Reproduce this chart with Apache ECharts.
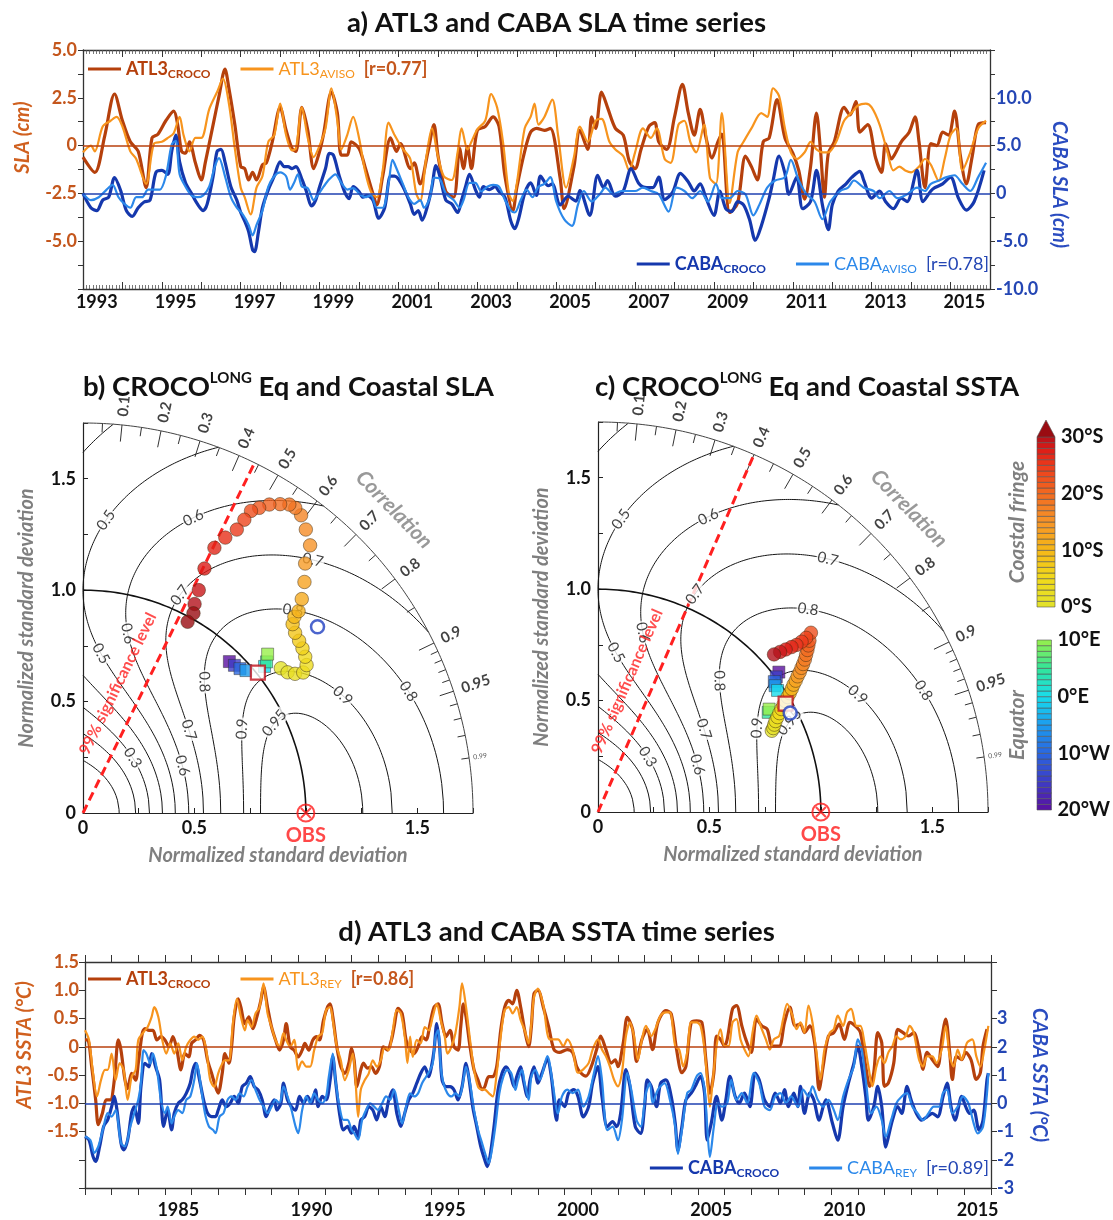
<!DOCTYPE html>
<html><head><meta charset="utf-8">
<script src="https://cdn.jsdelivr.net/npm/echarts/dist/echarts.min.js"></script>
<style>html,body{margin:0;padding:0;background:#fff}#c{width:1113px;height:1220px}</style>
</head><body><div id="c"></div>
<script>
// ---------------- DATA ----------------
// a) SLA time series [year, value]; ATL3 in cm (left axis), CABA in cm (right axis)
const slaAtl3Croco = [[1993.0,-0.6],[1993.3,-1.4],[1993.55,0.5],[1993.8,2.7],[1994.0,1.3],[1994.2,0.2],[1994.4,-0.3],[1994.6,-2.2],[1994.75,0.4],[1994.9,0.6],[1995.1,1.3],[1995.3,1.8],[1995.4,1.1],[1995.5,-0.3],[1995.6,-0.4],[1995.7,0.2],[1995.85,-0.9],[1996.0,-1.8],[1996.1,-0.9],[1996.3,1.1],[1996.45,2.6],[1996.6,4.0],[1996.7,3.0],[1996.85,1.1],[1997.0,-1.1],[1997.1,-1.2],[1997.2,-1.8],[1997.3,-1.4],[1997.4,-1.8],[1997.55,-1.0],[1997.65,-0.9],[1997.8,0.2],[1998.0,2.0],[1998.15,0.8],[1998.3,-0.15],[1998.4,-0.3],[1998.55,2.0],[1998.7,0.8],[1998.85,-1.2],[1999.0,-0.3],[1999.1,0.6],[1999.3,2.8],[1999.45,1.7],[1999.55,-0.5],[1999.7,-0.5],[1999.8,0.2],[2000.0,-0.15],[2000.15,-1.1],[2000.35,-2.5],[2000.45,-3.1],[2000.6,-1.6],[2000.8,0.4],[2000.95,-0.3],[2001.05,0.1],[2001.3,-1.2],[2001.4,-0.9],[2001.55,-2.0],[2001.75,-0.3],[2001.9,1.1],[2002.0,-0.5],[2002.2,-2.4],[2002.4,-2.7],[2002.55,-0.15],[2002.65,-1.2],[2002.75,-0.05],[2002.85,-1.2],[2003.0,0.8],[2003.2,1.0],[2003.4,1.5],[2003.55,1.0],[2003.7,-1.6],[2003.9,-3.4],[2004.0,-2.2],[2004.2,-0.3],[2004.35,0.7],[2004.5,0.9],[2004.7,0.8],[2004.85,0.9],[2005.1,-1.7],[2005.2,-3.3],[2005.45,-1.1],[2005.6,0.8],[2005.8,-0.2],[2005.9,1.5],[2006.0,0.9],[2006.15,2.8],[2006.3,2.0],[2006.5,0.9],[2006.7,0.55],[2006.85,-0.8],[2007.0,-1.2],[2007.15,-0.2],[2007.35,1.0],[2007.5,1.2],[2007.6,0.2],[2007.8,-0.2],[2008.0,1.5],[2008.2,3.2],[2008.35,1.7],[2008.5,0.55],[2008.65,1.9],[2008.8,0.4],[2008.95,-0.65],[2009.1,0.2],[2009.2,0.6],[2009.4,-3.5],[2009.6,-3.0],[2009.8,-0.55],[2009.95,-1.1],[2010.1,-1.8],[2010.25,0.2],[2010.4,0.4],[2010.6,2.4],[2010.8,0.4],[2011.0,-0.4],[2011.15,-1.3],[2011.3,-2.8],[2011.45,-1.1],[2011.6,1.7],[2011.7,-0.2],[2011.8,-2.7],[2011.9,-0.4],[2012.05,0.2],[2012.3,2.0],[2012.45,1.6],[2012.6,2.3],[2012.7,0.7],[2012.9,1.1],[2013.1,-0.65],[2013.25,-1.4],[2013.35,0.1],[2013.5,-0.7],[2013.6,-0.4],[2013.75,0.2],[2013.95,0.7],[2014.1,1.5],[2014.2,0.2],[2014.35,-2.2],[2014.5,0.1],[2014.65,0],[2014.8,0.7],[2014.95,0.55],[2015.1,1.8],[2015.25,-0.55],[2015.4,-2.0],[2015.55,-0.55],[2015.7,1.1],[2015.9,1.2]];
const slaAtl3Aviso = [[1993.0,-0.35],[1993.2,0],[1993.3,-0.3],[1993.5,1.0],[1993.7,1.3],[1993.85,1.5],[1994.0,1.0],[1994.2,-0.3],[1994.35,-0.7],[1994.6,-2.0],[1994.8,0.1],[1995.0,0.2],[1995.15,0.4],[1995.3,0.65],[1995.45,1.5],[1995.55,0.55],[1995.7,-0.3],[1995.85,0.4],[1996.0,0.4],[1996.2,1.9],[1996.4,2.8],[1996.55,3.5],[1996.7,2.2],[1996.85,-0.15],[1997.0,-2.2],[1997.1,-2.7],[1997.25,-3.6],[1997.4,-2.2],[1997.55,-1.6],[1997.7,0.2],[1997.85,0.55],[1998.0,2.2],[1998.15,0.55],[1998.3,-0.25],[1998.4,-0.15],[1998.55,2.0],[1998.7,0.4],[1998.85,-0.6],[1999.0,0],[1999.15,0.9],[1999.3,3.0],[1999.45,1.3],[1999.55,-0.2],[1999.7,0.55],[1999.85,1.5],[2000.0,0.4],[2000.15,-1.3],[2000.3,-2.4],[2000.45,-2.7],[2000.6,-1.3],[2000.75,1.2],[2000.9,0.55],[2001.1,-0.15],[2001.3,-0.7],[2001.45,-2.5],[2001.55,-2.9],[2001.7,-0.7],[2001.85,0.9],[2002.0,-0.55],[2002.15,-1.6],[2002.35,-1.8],[2002.5,-0.35],[2002.6,0.9],[2002.75,-0.2],[2002.85,0.2],[2003.0,0.85],[2003.2,1.3],[2003.35,2.7],[2003.5,2.0],[2003.65,0.2],[2003.8,-2.5],[2003.9,-2.9],[2004.0,-2.0],[2004.2,0.9],[2004.35,1.5],[2004.45,2.2],[2004.55,1.1],[2004.7,1.5],[2004.9,2.4],[2005.05,0.5],[2005.25,-2.2],[2005.45,-0.6],[2005.6,1.0],[2005.8,0.2],[2006.0,1.3],[2006.15,1.4],[2006.35,0.2],[2006.5,-0.2],[2006.7,-0.55],[2006.85,-1.3],[2007.0,-0.35],[2007.2,0.9],[2007.4,0.4],[2007.55,0.9],[2007.75,-0.7],[2007.9,-0.9],[2008.1,1.1],[2008.25,1.3],[2008.4,0.2],[2008.55,-0.35],[2008.75,1.1],[2008.9,-1.7],[2009.05,-2.0],[2009.2,1.7],[2009.4,-3.0],[2009.6,-0.35],[2009.75,0.2],[2009.95,0.9],[2010.2,1.7],[2010.35,1.5],[2010.5,3.0],[2010.65,2.6],[2010.8,0.9],[2010.95,-0.35],[2011.1,-0.7],[2011.3,-0.35],[2011.45,0.2],[2011.6,-0.2],[2011.75,-0.35],[2011.9,-0.35],[2012.1,0.2],[2012.3,1.3],[2012.5,1.75],[2012.65,2.1],[2012.85,2.2],[2013.0,2.0],[2013.2,1.1],[2013.4,-0.35],[2013.55,-1.3],[2013.7,-1.1],[2013.85,-1.3],[2014.0,-1.4],[2014.2,-1.1],[2014.35,-0.7],[2014.5,-1.0],[2014.7,-1.85],[2014.85,-0.7],[2015.0,0.55],[2015.15,0.9],[2015.3,-1.3],[2015.5,-0.35],[2015.7,0.9],[2015.9,1.3]];
const slaCabaCroco = [[1993.0,0],[1993.2,-1.5],[1993.35,-1.8],[1993.5,-0.7],[1993.65,-0.4],[1993.8,1.65],[1993.95,0.35],[1994.1,-1.8],[1994.25,-2.4],[1994.4,-1.5],[1994.55,-0.9],[1994.7,-0.7],[1994.85,2.2],[1995.0,2.4],[1995.15,2.0],[1995.25,4.4],[1995.35,6.1],[1995.45,3.3],[1995.6,1.1],[1995.75,0],[1995.9,-1.1],[1996.05,-1.8],[1996.15,-1.1],[1996.3,1.8],[1996.4,4.4],[1996.5,4.6],[1996.6,3.3],[1996.75,0.7],[1996.9,-0.7],[1997.0,-2.0],[1997.1,-2.9],[1997.2,-4.0],[1997.3,-5.9],[1997.35,-6.1],[1997.45,-4.0],[1997.55,-1.5],[1997.7,0.4],[1997.85,1.8],[1998.0,3.3],[1998.1,2.8],[1998.2,2.8],[1998.3,2.6],[1998.4,2.8],[1998.55,1.5],[1998.65,0.4],[1998.8,-1.3],[1998.9,-0.7],[1999.0,0.7],[1999.15,2.6],[1999.25,4.2],[1999.35,4.0],[1999.5,1.8],[1999.65,0],[1999.75,-0.55],[1999.85,0.7],[2000.0,0.2],[2000.1,-0.4],[2000.2,-0.2],[2000.35,-0.7],[2000.5,-2.6],[2000.65,-1.5],[2000.8,1.8],[2000.9,1.8],[2001.0,1.5],[2001.15,0.4],[2001.3,-1.1],[2001.4,-2.2],[2001.5,-1.8],[2001.6,-2.8],[2001.75,-1.1],[2001.85,0.7],[2001.95,2.9],[2002.05,1.8],[2002.2,-0.7],[2002.35,-1.1],[2002.5,-2.0],[2002.6,-0.7],[2002.7,0.7],[2002.8,2.0],[2002.95,0.4],[2003.05,-0.4],[2003.15,0.7],[2003.3,0.4],[2003.45,0.7],[2003.55,0.2],[2003.7,-0.4],[2003.85,-2.9],[2003.95,-3.7],[2004.05,-2.6],[2004.2,0],[2004.35,1.1],[2004.5,-0.2],[2004.6,1.8],[2004.8,0.8],[2004.9,1.0],[2005.1,-1.2],[2005.3,-0.3],[2005.5,-0.8],[2005.6,0.3],[2005.85,-2.3],[2006.05,1.9],[2006.2,0.6],[2006.3,1.35],[2006.5,-0.3],[2006.7,0.25],[2006.9,2.6],[2007.1,1.0],[2007.3,0.6],[2007.45,0.6],[2007.6,1.7],[2007.75,-0.65],[2007.95,0.1],[2008.15,2.1],[2008.35,1.2],[2008.5,0.25],[2008.65,1.0],[2008.8,-0.5],[2009.0,-2.3],[2009.15,0.25],[2009.3,-1.6],[2009.45,-1.9],[2009.6,-0.85],[2009.75,-1.2],[2009.9,-2.7],[2010.05,-4.9],[2010.2,-3.4],[2010.4,-0.5],[2010.5,1.35],[2010.65,3.9],[2010.8,2.1],[2010.9,-0.1],[2011.1,1.7],[2011.25,-1.6],[2011.45,-0.85],[2011.6,2.4],[2011.75,-1.2],[2011.9,-3.8],[2012.0,-1.2],[2012.15,0.25],[2012.35,1.0],[2012.5,1.7],[2012.7,2.3],[2012.8,1.35],[2013.0,-0.5],[2013.2,0.25],[2013.35,-0.85],[2013.55,-1.6],[2013.75,-0.5],[2013.9,-0.85],[2014.15,2.4],[2014.3,-0.85],[2014.5,0.25],[2014.6,0.6],[2014.8,1.0],[2015.0,1.7],[2015.2,-0.5],[2015.4,-1.75],[2015.6,-0.85],[2015.85,2.4]];
const slaCabaAviso = [[1993.0,0],[1993.2,-0.7],[1993.4,-0.4],[1993.6,0.4],[1993.75,0.9],[1993.9,-0.4],[1994.05,-1.1],[1994.2,-1.5],[1994.35,-0.4],[1994.5,-0.4],[1994.65,0.4],[1994.8,0.4],[1994.95,0.4],[1995.1,1.8],[1995.25,5.1],[1995.35,5.5],[1995.45,2.0],[1995.6,0.7],[1995.75,-0.2],[1995.9,-0.4],[1996.05,-0.2],[1996.2,0.7],[1996.35,2.9],[1996.45,3.7],[1996.6,1.8],[1996.75,-0.4],[1996.9,-1.5],[1997.05,-2.2],[1997.2,-3.3],[1997.3,-4.4],[1997.4,-3.3],[1997.55,-1.8],[1997.7,0.7],[1997.85,1.8],[1998.0,2.2],[1998.15,1.8],[1998.25,0.4],[1998.35,1.1],[1998.45,2.0],[1998.55,0.7],[1998.7,0.55],[1998.85,-0.7],[1998.95,-0.2],[1999.1,0.7],[1999.25,1.5],[1999.4,2.0],[1999.55,1.1],[1999.7,0.4],[1999.85,0.55],[2000.0,0],[2000.15,-0.4],[2000.3,-0.2],[2000.45,-1.5],[2000.6,-1.5],[2000.75,1.1],[2000.85,3.5],[2000.95,2.6],[2001.1,1.1],[2001.25,-0.4],[2001.4,-1.1],[2001.55,-0.7],[2001.65,-1.5],[2001.8,-0.4],[2001.9,1.65],[2002.05,1.5],[2002.2,0],[2002.4,-0.7],[2002.55,-1.5],[2002.65,-0.7],[2002.8,1.1],[2002.95,1.1],[2003.1,0.2],[2003.25,0.7],[2003.4,0.9],[2003.55,0.7],[2003.7,-0.7],[2003.85,-1.8],[2003.95,-2.0],[2004.1,-0.7],[2004.25,0.4],[2004.4,-0.4],[2004.55,0.7],[2004.7,1.0],[2004.85,1.7],[2005.0,-0.85],[2005.2,-2.7],[2005.4,-3.4],[2005.55,-1.2],[2005.7,0.25],[2005.9,-0.85],[2006.1,-0.1],[2006.25,0.6],[2006.45,-0.1],[2006.65,0.25],[2006.85,0.25],[2007.0,0.25],[2007.2,0.6],[2007.4,0.25],[2007.6,-0.1],[2007.85,-1.9],[2008.05,0.6],[2008.25,0.25],[2008.45,-0.5],[2008.65,0.25],[2008.85,-0.85],[2009.05,1.0],[2009.2,-0.5],[2009.4,-0.5],[2009.6,0.25],[2009.8,-0.1],[2010.0,-2.3],[2010.15,-1.2],[2010.35,0.6],[2010.55,1.35],[2010.8,1.7],[2010.95,3.5],[2011.15,1.35],[2011.35,-0.1],[2011.55,-0.85],[2011.75,-2.7],[2011.95,-0.85],[2012.2,0.25],[2012.4,0.6],[2012.55,1.35],[2012.8,0.6],[2013.05,0.25],[2013.2,-0.5],[2013.45,0.25],[2013.65,-0.5],[2013.9,-0.1],[2014.15,0.6],[2014.35,0.25],[2014.5,1.0],[2014.7,1.35],[2014.9,1.7],[2015.1,1.9],[2015.3,1.0],[2015.5,0.25],[2015.7,1.7],[2015.9,3.2]];

// d) SSTA time series [year, value]; ATL3 in °C (left axis), CABA in °C (right axis)
const sstAtl3Croco = [[1982.0,0.12],[1982.1,0.12],[1982.25,-0.35],[1982.4,-0.94],[1982.5,-1.38],[1982.65,-1.18],[1982.8,-0.94],[1982.95,-0.94],[1983.1,-0.59],[1983.25,0.12],[1983.35,-0.06],[1983.5,-0.59],[1983.6,-0.74],[1983.75,-0.47],[1983.9,-0.59],[1984.0,-0.29],[1984.15,0.24],[1984.25,0.32],[1984.4,0.29],[1984.55,0.29],[1984.7,0.12],[1984.85,0.18],[1985.0,0.12],[1985.15,0],[1985.3,0.18],[1985.45,-0.06],[1985.6,-0.41],[1985.75,-0.12],[1985.9,-0.18],[1986.0,0.06],[1986.15,0.12],[1986.3,0.2],[1986.45,0.12],[1986.6,-0.24],[1986.75,-0.47],[1986.9,-0.71],[1987.0,-0.82],[1987.15,-0.47],[1987.25,-0.12],[1987.4,-0.29],[1987.5,0],[1987.6,0.53],[1987.75,0.85],[1987.85,0.7],[1988.0,0.41],[1988.15,0.53],[1988.3,0.32],[1988.45,0.53],[1988.6,0.82],[1988.7,1.06],[1988.85,0.7],[1989.0,0.35],[1989.15,0.12],[1989.3,-0.06],[1989.45,0.12],[1989.55,0.41],[1989.7,0],[1989.85,-0.06],[1990.0,-0.18],[1990.15,-0.06],[1990.25,0.06],[1990.4,-0.06],[1990.55,0.12],[1990.7,0.18],[1990.8,0.12],[1990.95,0.47],[1991.1,0.7],[1991.2,0.76],[1991.3,0.53],[1991.45,0],[1991.6,-0.35],[1991.75,-0.47],[1991.9,-0.29],[1992.0,-0.03],[1992.1,-0.24],[1992.2,-0.71],[1992.35,-0.41],[1992.45,-0.29],[1992.6,-0.38],[1992.75,-0.35],[1992.9,-0.47],[1993.05,-0.35],[1993.2,0],[1993.35,-0.06],[1993.5,0.12],[1993.6,0.35],[1993.75,0.68],[1993.9,0.59],[1994.05,0.12],[1994.2,-0.06],[1994.35,-0.12],[1994.5,0],[1994.65,0.18],[1994.8,0.12],[1994.95,0.41],[1995.1,0.7],[1995.25,0.76],[1995.4,0.41],[1995.55,0.18],[1995.7,0.29],[1995.85,0],[1996.0,-0.06],[1996.1,0.35],[1996.2,0.76],[1996.3,0.53],[1996.45,0],[1996.6,-0.41],[1996.75,-0.59],[1996.9,-0.76],[1997.0,-0.71],[1997.15,-0.53],[1997.3,-0.53],[1997.45,-0.35],[1997.6,0.29],[1997.75,0.7],[1997.9,0.82],[1998.05,0.76],[1998.2,1.0],[1998.35,0.7],[1998.5,0.29],[1998.65,0],[1998.75,0.35],[1998.85,0.94],[1999.0,1.0],[1999.2,0.7],[1999.4,0.35],[1999.6,-0.05],[1999.8,-0.1],[2000.1,-0.05],[2000.3,-0.1],[2000.45,-0.35],[2000.6,-0.46],[2000.8,-0.52],[2001.0,-0.35],[2001.2,-0.05],[2001.35,0.19],[2001.55,-0.05],[2001.75,-0.29],[2001.9,-0.23],[2002.0,-0.35],[2002.2,0.07],[2002.35,0.52],[2002.55,0.31],[2002.7,-0.26],[2002.9,0.13],[2003.1,0.31],[2003.3,-0.05],[2003.5,0.43],[2003.8,0.64],[2004.0,0.58],[2004.2,-0.05],[2004.4,-0.46],[2004.55,-0.35],[2004.75,0.43],[2004.95,0.46],[2005.15,0.43],[2005.3,-0.23],[2005.45,-0.82],[2005.6,-0.46],[2005.7,0.19],[2005.85,0.13],[2006.0,0.01],[2006.1,0.13],[2006.3,0.67],[2006.45,0.73],[2006.65,0.37],[2006.8,0.13],[2007.0,-0.1],[2007.2,0.49],[2007.4,0.37],[2007.6,0.31],[2007.8,0.01],[2008.05,0.01],[2008.25,0.43],[2008.45,0.7],[2008.65,0.37],[2008.85,0.4],[2009.0,0.25],[2009.2,0.37],[2009.4,0.01],[2009.55,-0.76],[2009.7,-0.35],[2009.9,0.19],[2010.1,0.25],[2010.3,0.4],[2010.5,0.13],[2010.7,0.43],[2010.9,0.37],[2011.1,0.25],[2011.3,-0.35],[2011.45,-0.7],[2011.6,-0.46],[2011.75,0.25],[2011.9,0.07],[2012.0,-0.7],[2012.15,-0.64],[2012.35,-0.29],[2012.5,0.31],[2012.7,0.25],[2012.9,0.19],[2013.1,0.25],[2013.3,-0.05],[2013.45,-0.4],[2013.6,-0.1],[2013.8,-0.23],[2014.0,-0.35],[2014.15,0.13],[2014.3,0.49],[2014.45,-0.1],[2014.55,-0.58],[2014.7,-0.17],[2014.9,-0.23],[2015.05,-0.1],[2015.25,-0.23],[2015.45,-0.58],[2015.6,-0.46],[2015.7,0.01],[2015.85,0.31]];
const sstAtl3Rey = [[1982.0,0.29],[1982.15,0.12],[1982.3,-0.47],[1982.45,-0.88],[1982.6,-0.59],[1982.75,-0.41],[1982.85,-0.41],[1983.0,-0.12],[1983.15,-0.59],[1983.3,-0.29],[1983.45,-0.41],[1983.6,-0.94],[1983.75,-0.53],[1983.9,-0.41],[1984.0,0.12],[1984.2,0.26],[1984.35,0.35],[1984.5,0.53],[1984.6,0.7],[1984.75,0.53],[1984.9,0.12],[1985.05,-0.12],[1985.2,0.06],[1985.35,-0.12],[1985.5,0.06],[1985.65,-0.24],[1985.8,0],[1985.95,0.12],[1986.1,0.18],[1986.25,0.12],[1986.4,0.18],[1986.55,-0.06],[1986.7,-0.59],[1986.85,-0.71],[1987.0,-0.47],[1987.1,-0.35],[1987.25,-0.24],[1987.4,-0.24],[1987.55,0.41],[1987.7,0.85],[1987.85,0.53],[1988.0,0.29],[1988.1,0.47],[1988.25,0.35],[1988.4,0.59],[1988.55,0.7],[1988.7,1.12],[1988.85,0.59],[1989.0,0.35],[1989.15,0.12],[1989.3,0],[1989.45,0.24],[1989.55,0.12],[1989.7,0],[1989.85,0.12],[1990.0,-0.41],[1990.15,-0.26],[1990.3,-0.35],[1990.45,-0.35],[1990.6,-0.06],[1990.75,0.18],[1990.9,0.24],[1991.05,0.65],[1991.2,0.7],[1991.3,0.47],[1991.45,0],[1991.6,-0.24],[1991.75,-0.59],[1991.9,-0.41],[1992.05,-0.12],[1992.15,-0.59],[1992.25,-1.24],[1992.35,-0.76],[1992.5,-0.59],[1992.65,-0.47],[1992.8,-0.24],[1992.95,-0.35],[1993.1,-0.24],[1993.25,0],[1993.4,-0.06],[1993.55,0.29],[1993.7,0.65],[1993.85,0.59],[1994.0,0.18],[1994.1,-0.29],[1994.2,0.18],[1994.3,-0.18],[1994.45,0.12],[1994.6,0.06],[1994.75,0.35],[1994.9,0.29],[1995.05,0.53],[1995.2,0.76],[1995.35,0.47],[1995.5,0.18],[1995.6,-0.12],[1995.75,0],[1995.9,0.24],[1996.05,0.7],[1996.15,1.12],[1996.3,0.7],[1996.45,0.12],[1996.6,-0.41],[1996.75,-0.71],[1996.9,-0.76],[1997.0,-0.76],[1997.15,-0.82],[1997.3,-0.88],[1997.45,-0.47],[1997.6,0.18],[1997.75,0.65],[1997.9,0.7],[1998.05,0.59],[1998.2,0.7],[1998.35,0.47],[1998.5,0.29],[1998.65,0.06],[1998.75,0.41],[1998.85,0.88],[1999.0,1.03],[1999.2,0.73],[1999.45,0.13],[1999.75,0.13],[1999.95,0.01],[2000.1,0.13],[2000.3,-0.05],[2000.5,-0.46],[2000.7,-0.4],[2000.9,-0.29],[2001.05,-0.05],[2001.25,0.13],[2001.4,-0.05],[2001.55,-0.17],[2001.7,-0.35],[2001.85,-0.58],[2002.0,-0.7],[2002.15,-0.46],[2002.3,0.19],[2002.45,0.43],[2002.6,0.19],[2002.75,-0.23],[2002.9,0.13],[2003.05,0.37],[2003.25,0.19],[2003.4,0.31],[2003.6,0.55],[2003.8,0.61],[2003.95,0.61],[2004.15,0.01],[2004.3,-0.05],[2004.45,-0.35],[2004.6,-0.1],[2004.75,0.43],[2004.95,0.43],[2005.1,0.37],[2005.25,-0.05],[2005.35,-0.58],[2005.45,-1.06],[2005.55,-0.64],[2005.7,0.01],[2005.85,0.31],[2006.0,0.01],[2006.15,0.01],[2006.3,0.43],[2006.45,0.49],[2006.6,0.13],[2006.75,-0.05],[2006.9,-0.17],[2007.05,0.25],[2007.2,0.55],[2007.4,0.31],[2007.55,0.13],[2007.7,-0.05],[2007.85,0.13],[2008.05,0.19],[2008.2,0.49],[2008.35,0.76],[2008.55,0.55],[2008.7,0.31],[2008.85,0.43],[2009.0,0.25],[2009.15,0.73],[2009.3,0.43],[2009.45,-0.1],[2009.6,-0.58],[2009.75,-0.05],[2009.95,0.25],[2010.1,0.31],[2010.25,0.55],[2010.45,0.37],[2010.6,0.61],[2010.75,0.67],[2010.95,0.37],[2011.1,0.37],[2011.25,0.07],[2011.4,-0.35],[2011.55,-0.7],[2011.7,-0.35],[2011.85,-0.17],[2012.0,-0.29],[2012.15,-0.1],[2012.3,0.01],[2012.45,0.19],[2012.6,0.13],[2012.8,0.19],[2012.95,0.37],[2013.1,0.25],[2013.3,-0.23],[2013.45,-0.35],[2013.6,-0.17],[2013.8,-0.17],[2013.95,-0.29],[2014.15,-0.05],[2014.3,0.37],[2014.45,-0.17],[2014.6,-0.35],[2014.75,-0.05],[2014.9,-0.23],[2015.1,0.07],[2015.3,0.13],[2015.45,-0.17],[2015.6,-0.35],[2015.75,-0.05],[2015.9,0.37]];
const sstCabaCroco = [[1982.0,-1.18],[1982.15,-1.3],[1982.3,-1.88],[1982.4,-2.06],[1982.55,-1.53],[1982.7,-0.82],[1982.85,-0.59],[1983.0,-0.12],[1983.1,0.24],[1983.2,-0.24],[1983.35,-1.41],[1983.45,-1.65],[1983.6,-1.3],[1983.75,-0.35],[1983.85,-0.12],[1984.0,-0.71],[1984.1,0.59],[1984.25,1.41],[1984.4,1.29],[1984.5,1.76],[1984.65,1.29],[1984.8,0.82],[1984.95,-0.82],[1985.1,-0.24],[1985.25,-0.94],[1985.35,-0.35],[1985.5,0],[1985.65,0.12],[1985.8,0.35],[1985.95,0.71],[1986.05,1.18],[1986.15,1.41],[1986.3,0.82],[1986.45,0.12],[1986.6,-0.35],[1986.75,-0.47],[1986.9,-0.47],[1987.0,-0.24],[1987.15,0.12],[1987.3,-0.12],[1987.45,0],[1987.6,0.24],[1987.75,0],[1987.9,0.59],[1988.05,0.71],[1988.2,0.94],[1988.35,0.59],[1988.5,0.47],[1988.65,0.12],[1988.8,-0.47],[1988.95,-0.12],[1989.1,0.12],[1989.2,-0.24],[1989.35,0],[1989.45,0.71],[1989.6,0.12],[1989.75,-0.12],[1989.9,-0.24],[1990.05,0.24],[1990.2,0],[1990.35,0.24],[1990.5,0],[1990.65,0.47],[1990.75,-0.12],[1990.9,0.24],[1991.05,0.12],[1991.2,0.82],[1991.3,1.65],[1991.4,0.82],[1991.55,-0.35],[1991.7,-0.94],[1991.85,-0.82],[1992.0,-1.06],[1992.1,-0.82],[1992.25,-1.18],[1992.35,-0.59],[1992.5,-0.47],[1992.65,-0.12],[1992.8,-0.24],[1992.95,-0.59],[1993.1,-0.12],[1993.25,-0.47],[1993.4,0.12],[1993.55,0.47],[1993.7,-0.35],[1993.85,-0.82],[1994.0,-0.35],[1994.15,0.12],[1994.3,0.35],[1994.45,0.71],[1994.6,1.06],[1994.75,1.29],[1994.9,0.94],[1995.0,1.29],[1995.1,1.88],[1995.2,2.82],[1995.3,2.12],[1995.4,0.82],[1995.55,0.59],[1995.7,0.59],[1995.85,0.47],[1996.0,0.12],[1996.15,0.59],[1996.3,1.41],[1996.4,0.94],[1996.55,-0.12],[1996.7,-0.82],[1996.85,-1.53],[1997.0,-2.0],[1997.1,-2.24],[1997.2,-1.88],[1997.35,-0.82],[1997.5,0.47],[1997.65,1.06],[1997.8,1.29],[1997.95,1.06],[1998.1,0.59],[1998.2,0.94],[1998.35,1.29],[1998.45,0.82],[1998.6,0.24],[1998.7,0.82],[1998.85,1.29],[1999.0,0.71],[1999.15,1.07],[1999.35,1.55],[1999.5,0.95],[1999.7,-0.6],[1999.8,0.12],[2000.0,-0.12],[2000.15,0.36],[2000.35,0.48],[2000.5,0.24],[2000.7,-0.48],[2000.9,-0.12],[2001.05,0.71],[2001.25,1.3],[2001.4,0.24],[2001.6,-0.83],[2001.8,-0.65],[2001.95,-0.83],[2002.1,-0.36],[2002.3,1.19],[2002.45,0.6],[2002.65,-0.83],[2002.85,-1.07],[2003.0,-0.12],[2003.1,0.83],[2003.25,0.6],[2003.45,-0.12],[2003.6,0.71],[2003.8,0.83],[2004.0,0.24],[2004.15,-0.71],[2004.25,-1.67],[2004.4,-0.83],[2004.55,0.12],[2004.75,0.36],[2004.9,0.6],[2005.1,0.95],[2005.25,0.36],[2005.35,-1.31],[2005.5,-0.71],[2005.7,0.24],[2005.9,-0.6],[2006.05,0.12],[2006.2,0.95],[2006.4,0.24],[2006.55,0],[2006.75,0.36],[2006.95,-0.12],[2007.15,1.07],[2007.3,0.83],[2007.5,0.12],[2007.7,-0.12],[2007.9,0.36],[2008.1,0],[2008.25,0.48],[2008.4,-0.12],[2008.6,0.36],[2008.75,-0.12],[2008.85,0.6],[2009.0,-0.36],[2009.2,0.36],[2009.35,0.12],[2009.55,-0.6],[2009.7,-0.12],[2009.8,0.12],[2010.05,-0.71],[2010.25,-1.31],[2010.45,-0.12],[2010.65,0.71],[2010.85,1.4],[2011.0,2.02],[2011.15,1.3],[2011.3,0.24],[2011.4,-0.6],[2011.6,-0.12],[2011.75,0.6],[2011.9,-0.12],[2012.05,-1.55],[2012.15,-1.19],[2012.3,-0.6],[2012.5,-0.12],[2012.65,-0.36],[2012.85,0.6],[2013.0,0.12],[2013.2,-0.36],[2013.4,-0.6],[2013.6,-0.48],[2013.8,-0.36],[2014.0,-0.48],[2014.2,0.24],[2014.35,0.71],[2014.5,-0.12],[2014.65,-0.6],[2014.9,0.24],[2015.05,-0.12],[2015.2,-0.36],[2015.35,-0.24],[2015.55,-0.95],[2015.7,-0.6],[2015.85,0.83],[2015.9,1.07]];
const sstCabaRey = [[1982.0,-1.18],[1982.2,-1.3],[1982.35,-1.76],[1982.5,-1.53],[1982.7,-0.82],[1982.85,-0.35],[1983.0,-0.47],[1983.15,-0.24],[1983.35,-1.41],[1983.5,-1.53],[1983.7,-0.82],[1983.85,-0.35],[1984.0,0.12],[1984.1,0.71],[1984.2,1.88],[1984.3,1.76],[1984.45,1.41],[1984.55,1.76],[1984.7,1.18],[1984.85,0.12],[1985.0,-0.35],[1985.1,-0.12],[1985.25,-0.71],[1985.35,-0.47],[1985.5,-0.24],[1985.65,-0.35],[1985.8,0.12],[1985.95,0.24],[1986.1,0.82],[1986.2,1.41],[1986.35,0.59],[1986.5,-0.35],[1986.65,-0.82],[1986.8,-0.94],[1986.9,-1.06],[1987.05,-0.47],[1987.2,-0.35],[1987.35,0.12],[1987.5,0.24],[1987.65,0.12],[1987.8,0.35],[1987.95,0.24],[1988.1,0.59],[1988.25,0.82],[1988.4,0.47],[1988.55,0.12],[1988.7,-0.12],[1988.85,-0.35],[1989.0,-0.12],[1989.15,0.12],[1989.3,0],[1989.45,0.59],[1989.6,0.24],[1989.75,-0.24],[1989.9,-0.82],[1990.0,-1.06],[1990.15,-0.24],[1990.3,0.24],[1990.45,0],[1990.6,0.35],[1990.75,0.12],[1990.9,0],[1991.05,0.24],[1991.15,0.94],[1991.3,1.76],[1991.4,0.82],[1991.55,-0.12],[1991.7,-0.59],[1991.85,-0.59],[1992.0,-0.94],[1992.1,-1.06],[1992.25,-1.29],[1992.4,-0.59],[1992.55,-0.24],[1992.7,0],[1992.85,-0.12],[1993.0,-0.24],[1993.15,0],[1993.3,0.24],[1993.45,0.12],[1993.6,0.47],[1993.75,-0.12],[1993.9,-0.71],[1994.05,-0.12],[1994.2,0.35],[1994.35,0.24],[1994.5,0.35],[1994.65,0.71],[1994.8,0.94],[1994.95,1.18],[1995.05,1.41],[1995.15,2.35],[1995.25,2.59],[1995.35,1.29],[1995.45,0.71],[1995.6,0.35],[1995.75,0.24],[1995.9,0.35],[1996.05,0.24],[1996.2,0.82],[1996.3,1.29],[1996.45,0.71],[1996.6,-0.24],[1996.75,-0.94],[1996.9,-1.41],[1997.05,-1.88],[1997.15,-2.12],[1997.25,-1.76],[1997.4,-0.82],[1997.55,0.35],[1997.7,0.94],[1997.85,1.18],[1998.0,1.06],[1998.15,0.47],[1998.25,0.82],[1998.4,1.18],[1998.5,0.71],[1998.65,0.12],[1998.75,0.94],[1998.9,1.18],[1999.07,0.83],[1999.35,1.67],[1999.55,0.71],[1999.75,-0.36],[1999.9,0.24],[2000.1,0.48],[2000.3,0.36],[2000.5,0.48],[2000.7,-0.12],[2000.9,0.24],[2001.1,1.07],[2001.25,1.67],[2001.4,0.83],[2001.6,-0.95],[2001.8,-0.83],[2002.0,-1.31],[2002.15,-0.6],[2002.35,1.07],[2002.5,0.48],[2002.7,-0.6],[2002.85,-0.83],[2003.05,0.36],[2003.2,0.71],[2003.3,0],[2003.5,0.48],[2003.75,0.71],[2003.95,0.12],[2004.15,-0.83],[2004.25,-1.79],[2004.4,-0.95],[2004.6,0.36],[2004.75,0.48],[2004.95,0.95],[2005.1,1.07],[2005.25,0.48],[2005.35,-0.83],[2005.45,-1.9],[2005.6,-0.83],[2005.75,0],[2005.9,-0.12],[2006.1,0],[2006.25,0.83],[2006.45,0.12],[2006.65,0.36],[2006.85,0],[2007.1,1.07],[2007.3,0.71],[2007.5,-0.12],[2007.7,-0.24],[2007.9,0.24],[2008.1,0.36],[2008.3,0],[2008.5,0.24],[2008.75,-0.12],[2008.95,0.48],[2009.15,0.24],[2009.3,0.6],[2009.5,0.12],[2009.7,-0.12],[2009.9,0.12],[2010.1,-0.24],[2010.25,-0.6],[2010.45,0.24],[2010.65,0.83],[2010.85,1.3],[2011.0,2.26],[2011.15,1.9],[2011.3,0.83],[2011.5,-0.36],[2011.7,-0.12],[2011.9,-0.6],[2012.05,-1.19],[2012.25,-0.6],[2012.45,0],[2012.65,0.24],[2012.85,0.36],[2013.05,-0.12],[2013.25,-0.36],[2013.45,-0.6],[2013.65,-0.36],[2013.85,-0.12],[2014.05,-0.12],[2014.2,0.36],[2014.35,0.48],[2014.55,-0.36],[2014.75,-0.12],[2014.95,0.24],[2015.15,0],[2015.35,-0.71],[2015.5,-1.07],[2015.7,-0.83],[2015.85,0.36],[2015.9,1.07]];

// b) Taylor diagram SLA: normalized std and correlation
const bCoastStd  = [1.100,1.114,1.138,1.172,1.203,1.219,1.231,1.240,1.249,1.266,1.294,1.325,1.373,1.436,1.499,1.575,1.618,1.656,1.668,1.665,1.644,1.617,1.581,1.551,1.502,1.447,1.391,1.328,1.225,1.127,1.063,1.024,0.978];
const bCoastCorr = [0.807,0.824,0.836,0.843,0.834,0.818,0.800,0.782,0.762,0.743,0.733,0.730,0.715,0.692,0.665,0.647,0.618,0.591,0.571,0.556,0.538,0.517,0.500,0.486,0.482,0.477,0.459,0.444,0.445,0.461,0.471,0.484,0.480];
const bEqStd  = [0.945,0.949,0.957,0.971,1.047,1.067,1.093];
const bEqCorr = [0.695,0.716,0.736,0.753,0.778,0.772,0.758];
const bAtl3 = [1.006, 0.780];   // [std, corr]
const bCaba = [1.344, 0.783];
const bSig = 0.44;
// c) Taylor diagram SSTA
const cCoastStd  = [0.861,0.872,0.883,0.895,0.911,0.927,0.944,0.961,0.978,0.995,1.012,1.030,1.047,1.065,1.083,1.101,1.119,1.135,1.153,1.170,1.188,1.204,1.221,1.249,1.218,1.191,1.164,1.141,1.114,1.088,1.060];
const cCoastCorr = [0.906,0.902,0.896,0.890,0.884,0.878,0.872,0.866,0.861,0.855,0.850,0.844,0.838,0.833,0.827,0.822,0.816,0.811,0.805,0.798,0.791,0.784,0.777,0.765,0.767,0.767,0.765,0.761,0.756,0.751,0.745];
const cEqStd  = [1.026,1.004,0.984,0.976,0.973,0.885,0.896];
const cEqCorr = [0.791,0.797,0.804,0.814,0.828,0.863,0.857];
const cAtl3 = [0.972, 0.866];
const cCaba = [0.970, 0.889];
const cSig = 0.40;
const eqLon = [-20,-15,-10,-5,0,5,10];
const skillLevels = [0.1,0.2,0.3,0.4,0.5,0.6,0.7,0.8,0.9,0.95];
const skillLabels = [[0.5,1.318],[0.6,1.414],[0.7,1.534],[0.8,1.31],[0.9,1.279],[0.8,1.559],[0.7,1.07],[0.6,0.83],[0.5,0.72],[0.3,0.333],[0.6,0.494],[0.7,0.604],[0.8,0.802],[0.9,0.807],[0.95,0.949]]; // [level, std]
const corrTickLabels = [0.1,0.2,0.3,0.4,0.5,0.6,0.7,0.8,0.9,0.95];

// ---------------- STYLE ----------------
const FONT = 'Lato, "Open Sans", "DejaVu Sans", sans-serif';
const C_AC = '#b5400c', C_AO = '#f7941d', C_BC = '#1538ad', C_BO = '#2b88ea';
const C_LAX = '#c4561c', C_RAX = '#2446b4', GRAY = '#7f7f7f';
const SMAX = 1.75;
const coastStops = [[0,'#e2e22a'],[5,'#f0da1c'],[10,'#f5b817'],[15,'#f69428'],[20,'#f26b21'],[25,'#ec3a1b'],[28,'#dc1a16'],[30,'#b3121b']];
const eqStops = [[-20,'#5a10a0'],[-15,'#3d3cc6'],[-10,'#2a66df'],[-5,'#1c9cee'],[0,'#18dcec'],[5,'#32e59a'],[10,'#98f04a']];

function hex2rgb(h){return [parseInt(h.slice(1,3),16),parseInt(h.slice(3,5),16),parseInt(h.slice(5,7),16)];}
function ramp(stops,v){
  if(v<=stops[0][0]) return stops[0][1];
  for(let i=1;i<stops.length;i++){ if(v<=stops[i][0]){ const a=hex2rgb(stops[i-1][1]), b=hex2rgb(stops[i][1]); const t=(v-stops[i-1][0])/(stops[i][0]-stops[i-1][0]); return 'rgb('+a.map((x,j)=>Math.round(x+(b[j]-x)*t)).join(',')+')'; } }
  return stops[stops.length-1][1];
}
const coastColor = lat => lat>30.5 ? '#9a0c12' : ramp(coastStops, lat);
const eqColor = lon => ramp(eqStops, lon);

// Taylor helpers
const tp = (s, r) => [s*r, s*Math.sqrt(Math.max(0,1-r*r))];
const skillR = (S, s) => S*(s+1/s)*(s+1/s)/2 - 1;
function contourSegments(S){
  const sig=[]; for(let s=0.02;s<=SMAX;s+=0.0025) sig.push(s);
  const k1=2/Math.sqrt(S), d1=Math.sqrt(k1*k1-4); sig.push((k1-d1)/2,(k1+d1)/2);
  const k0=Math.sqrt(2/S); if(k0>=2){const d0=Math.sqrt(k0*k0-4); sig.push((k0-d0)/2,(k0+d0)/2);}
  sig.push(SMAX); sig.sort((a,b)=>a-b);
  const segs=[]; let cur=null;
  for(const s of sig){ if(s>SMAX+1e-9) continue; let R=skillR(S,s);
    if(R>1&&R<1+1e-7) R=1; if(R<0&&R>-1e-7) R=0;
    if(R>=0&&R<=1){ if(!cur){cur=[];segs.push(cur);} cur.push(tp(s,R)); } else cur=null; }
  return segs;
}
function arc(radius){ const d=[]; for(let a=0;a<=90;a+=0.5){const t=a*Math.PI/180; d.push([radius*Math.cos(t),radius*Math.sin(t)]);} return d; }
const deg = r => Math.acos(r)*180/Math.PI;

function taylorSeries(xi, yi, coastStd, coastCorr, eqStd, eqCorr, atl3, caba, sig){
  const base = {xAxisIndex:xi, yAxisIndex:yi, silent:true, animation:false};
  const out=[];
  skillLevels.forEach(S=>contourSegments(S).forEach(seg=>out.push(Object.assign({type:'line', data:seg, showSymbol:false, symbol:'none', lineStyle:{color:'#151515', width:1}, z:2, clip:false}, base))));
  out.push(Object.assign({type:'line', data:arc(1), showSymbol:false, symbol:'none', lineStyle:{color:'#111', width:1.6}, z:2}, base));
  out.push(Object.assign({type:'line', data:arc(SMAX), showSymbol:false, symbol:'none', lineStyle:{color:'#444', width:1}, z:2, clip:false}, base));
  const ticks=[]; for(let i=1;i<=18;i++){ const r=i*0.05; ticks.push([r, (i%2===0)?0.075:0.04]); }
  for(let i=91;i<=99;i++) ticks.push([i/100, i===95?0.065:0.035]);
  out.push(Object.assign({type:'custom', data:ticks, clip:false, z:2, renderItem:(p,api)=>{ const R=api.value(0), L=api.value(1); const a=api.coord(tp(SMAX,R)), b=api.coord(tp(SMAX-L,R)); return {type:'line', shape:{x1:a[0],y1:a[1],x2:b[0],y2:b[1]}, style:{stroke:'#333', lineWidth:1}}; }}, base));
  out.push(Object.assign({type:'scatter', symbolSize:0, clip:false, z:4,
    data: corrTickLabels.map(r=>({name:String(r), value:tp(SMAX+(r===0.95?0.105:0.085), r), label:{rotate:deg(r)}})),
    label:{show:true, position:'inside', formatter:'{b}', fontSize:15, fontWeight:'bold', color:'#111', fontFamily:FONT}}, base));
  out.push(Object.assign({type:'scatter', symbolSize:0, clip:false, z:4,
    data:[{name:'0.99', value:tp(SMAX+0.05,0.99), label:{rotate:deg(0.99)}}],
    label:{show:true, position:'inside', formatter:'{b}', fontSize:7, color:'#333', fontFamily:FONT}}, base));
  out.push(Object.assign({type:'scatter', symbolSize:0, clip:false, z:4,
    data:[{name:'Correlation', value:tp(1.95,0.716), label:{rotate:deg(0.716)-90}}],
    label:{show:true, position:'inside', formatter:'{b}', fontSize:21, fontWeight:'bold', fontStyle:'italic', color:GRAY, fontFamily:FONT}}, base));
  out.push(Object.assign({type:'line', data:[[0,0], tp(SMAX,sig)], showSymbol:false, symbol:'none', lineStyle:{color:'#ff2020', width:3, type:[9,5]}, z:3, clip:false}, base));
  const th = Math.acos(sig)+11*Math.PI/180;
  out.push(Object.assign({type:'scatter', symbolSize:0, clip:false, z:4,
    data:[{name:'99% significance level', value:[0.6*Math.cos(th),0.6*Math.sin(th)], label:{rotate:deg(sig)}}],
    label:{show:true, position:'inside', formatter:'{b}', fontSize:16, fontWeight:'bold', color:'#ff2020', fontFamily:FONT}}, base));
  out.push(Object.assign({type:'scatter', symbolSize:0, clip:false, z:3,
    data: skillLabels.map(([S,s])=>{ const p=tp(s,skillR(S,s)); const p1=tp(s-0.004,skillR(S,s-0.004)), p2=tp(s+0.004,skillR(S,s+0.004)); let a=Math.atan2(p2[1]-p1[1],p2[0]-p1[0])*180/Math.PI; if(a>90)a-=180; if(a<-90)a+=180; return {name:String(S), value:p, label:{rotate:a}}; }),
    label:{show:true, position:'inside', formatter:'{b}', fontSize:15, color:'#111', backgroundColor:'#fff', padding:[0,1], fontFamily:FONT}}, base));
  out.push(Object.assign({type:'scatter', symbol:'rect', symbolSize:12, z:5, clip:false,
    data: eqStd.map((s,i)=>({value:tp(s,eqCorr[i]), itemStyle:{color:eqColor(eqLon[i])}})),
    itemStyle:{borderColor:'#333', borderWidth:0.6}}, base));
  out.push(Object.assign({type:'scatter', symbol:'circle', symbolSize:13.5, z:6, clip:false,
    data: coastStd.map((s,i)=>({value:tp(s,coastCorr[i]), itemStyle:{color:coastColor(i)}})),
    itemStyle:{borderColor:'#3a2a10', borderWidth:0.6}}, base));
  out.push(Object.assign({type:'scatter', symbol:'rect', symbolSize:14, z:7, clip:false,
    data:[tp(atl3[0],atl3[1])], itemStyle:{color:'#fff', borderColor:'#c0101a', borderWidth:2.2}}, base));
  out.push(Object.assign({type:'scatter', symbol:'circle', symbolSize:13, z:7, clip:false,
    data:[tp(caba[0],caba[1])], itemStyle:{color:'#fff', borderColor:'#1f3fc0', borderWidth:2.5}}, base));
  out.push(Object.assign({type:'scatter', symbol:'circle', symbolSize:17, z:7, clip:false,
    data:[[1,0]], itemStyle:{color:'rgba(255,255,255,0)', borderColor:'#ff1a1a', borderWidth:2},
    label:{show:true, position:'bottom', distance:3, formatter:'OBS', fontSize:20, fontWeight:'bold', color:'#ff1a1a', fontFamily:FONT}}, base));
  out.push(Object.assign({type:'scatter', symbol:'path://M0,0L10,10M10,0L0,10', symbolSize:10, z:7, clip:false,
    data:[[1,0]], itemStyle:{color:'rgba(0,0,0,0)', borderColor:'#ff1a1a', borderWidth:2}}, base));
  return out;
}

// ---------------- AXES ----------------
const axLine = {show:true, onZero:false, lineStyle:{color:'#333', width:1.3}};
// off = position of the year label inside the year interval
function tsX(gi, min, max, minor, base, step, inside, off, margin){
  const tick = {show:true, inside:inside, length:7, lineStyle:{color:'#333', width:1}};
  const mt = {show:minor, splitNumber:12, length:4, lineStyle:{color:'#555', width:0.8}};
  return [
    {gridIndex:gi, type:'value', position:'bottom', min, max, interval:1, axisLine:axLine, axisTick:tick, minorTick:mt, axisLabel:{show:false}, splitLine:{show:false}, minorSplitLine:{show:false}},
    {gridIndex:gi, type:'value', position:'bottom', min:min-off, max:max-off, interval:0.05, axisLine:{show:false}, axisTick:{show:false}, splitLine:{show:false},
      axisLabel:{show:true, margin:margin, fontSize:18, fontWeight:'bold', color:'#111', fontFamily:FONT, formatter:v=>{ const r=Math.round(v); return (Math.abs(v-r)<1e-6 && (r-base)%step===0) ? String(r) : ''; }}},
    {gridIndex:gi, type:'value', position:'top', min, max, interval:1, axisLine:axLine, axisTick:tick, minorTick:mt, axisLabel:{show:false}, splitLine:{show:false}, minorSplitLine:{show:false}}
  ];
}
const nameStyle = (c, pad, fs) => ({fontSize:fs||20, fontWeight:'bold', fontStyle:'italic', color:c, fontFamily:FONT, padding:pad});
function taylorX(gi){ return {gridIndex:gi, type:'value', min:0, max:SMAX, interval:0.25, axisLine:{onZero:false, lineStyle:{color:'#222', width:1.2}}, axisTick:{inside:true, length:5, lineStyle:{color:'#222'}}, splitLine:{show:false},
  axisLabel:{fontSize:18, fontWeight:'bold', color:'#111', margin:6, fontFamily:FONT, formatter:v=>v===0?'0':(v===0.5?'0.5':(v===1.5?'1.5':''))},
  name:'Normalized standard deviation', nameLocation:'middle', nameGap:33, nameTextStyle:nameStyle(GRAY,[0,0,0,0])}; }
function taylorY(gi){ return {gridIndex:gi, type:'value', min:0, max:SMAX, interval:0.25, axisLine:{onZero:false, lineStyle:{color:'#222', width:1.2}}, axisTick:{inside:true, length:5, lineStyle:{color:'#222'}}, splitLine:{show:false},
  axisLabel:{fontSize:18, fontWeight:'bold', color:'#111', margin:7, fontFamily:FONT, formatter:v=>v===0?'0':(v===0.5?'0.5':(v===1?'1.0':(v===1.5?'1.5':'')))},
  name:'Normalized standard deviation', nameLocation:'middle', nameGap:46, nameTextStyle:nameStyle(GRAY,[0,0,0,0])}; }

const xAxes = [].concat(
  tsX(0, 1993, 2016, true, 1993, 2, true, 0.35, 4),
  [taylorX(1), taylorX(2),
   {gridIndex:3, type:'value', min:0, max:1, show:false},
   {gridIndex:4, type:'value', min:0, max:1, show:false}],
  tsX(5, 1982, 2016, false, 1985, 5, false, 0.5, 13)
);
const yAxes = [
  {gridIndex:0, type:'value', position:'left', min:-7.5, max:5, interval:1.25, axisLine:axLine, axisTick:{show:true, length:5, lineStyle:{color:'#333'}}, splitLine:{show:false},
   axisLabel:{fontSize:18, fontWeight:'bold', color:C_LAX, margin:6, fontFamily:FONT, formatter:v=>v===0?'0':([5,2.5,-2.5,-5].includes(v)?v.toFixed(1):'')},
   name:'SLA (cm)', nameLocation:'middle', nameGap:50, nameTextStyle:nameStyle('#d0601f',[0,0,0,64])},
  {gridIndex:0, type:'value', position:'right', min:-10, max:15, interval:2.5, axisLine:axLine, axisTick:{show:true, length:5, lineStyle:{color:'#333'}}, splitLine:{show:false},
   axisLabel:{fontSize:18, fontWeight:'bold', color:C_RAX, margin:6, fontFamily:FONT, formatter:v=>v===0?'0':([10,5,-5,-10].includes(v)?v.toFixed(1):'')},
   name:'CABA SLA (cm)', nameLocation:'middle', nameGap:52, nameRotate:-90, nameTextStyle:nameStyle('#2a4cc0',[0,0,0,30])},
  taylorY(1), taylorY(2),
  {gridIndex:3, type:'value', position:'right', min:0, max:30, interval:10, axisLine:{show:false}, axisTick:{show:false}, splitLine:{show:false},
   axisLabel:{margin:6, fontSize:20, fontWeight:'bold', color:'#111', fontFamily:FONT, formatter:v=>v+'°S'}},
  {gridIndex:3, type:'value', position:'left', min:0, max:30, axisLine:{show:false}, axisTick:{show:false}, axisLabel:{show:false}, splitLine:{show:false},
   name:'Coastal fringe', nameLocation:'middle', nameGap:9, nameTextStyle:nameStyle(GRAY,[0,0,0,0],21)},
  {gridIndex:4, type:'value', position:'right', min:-20, max:10, interval:10, axisLine:{show:false}, axisTick:{show:false}, splitLine:{show:false},
   axisLabel:{margin:6, fontSize:20, fontWeight:'bold', color:'#111', fontFamily:FONT, formatter:v=>v<0?(-v)+'°W':v+'°E'}},
  {gridIndex:4, type:'value', position:'left', min:-20, max:10, axisLine:{show:false}, axisTick:{show:false}, axisLabel:{show:false}, splitLine:{show:false},
   name:'Equator', nameLocation:'middle', nameGap:9, nameTextStyle:nameStyle(GRAY,[0,0,0,0],21)},
  {gridIndex:5, type:'value', position:'left', min:-2.5, max:1.5, interval:0.5, axisLine:axLine, axisTick:{show:true, length:6, lineStyle:{color:'#333'}}, splitLine:{show:false},
   axisLabel:{fontSize:18, fontWeight:'bold', color:C_LAX, margin:6, fontFamily:FONT, formatter:v=>v<-1.6?'':(v===0?'0':v.toFixed(1))},
   name:'ATL3 SSTA (°C)', nameLocation:'middle', nameGap:50, nameTextStyle:nameStyle('#d0601f',[0,0,0,60])},
  {gridIndex:5, type:'value', position:'right', min:-3, max:5, interval:1, axisLine:axLine, axisTick:{show:true, length:6, lineStyle:{color:'#333'}}, splitLine:{show:false},
   axisLabel:{fontSize:18, fontWeight:'bold', color:C_RAX, margin:6, fontFamily:FONT, formatter:v=>v>3?'':String(v)},
   name:'CABA SSTA (°C)', nameLocation:'middle', nameGap:38, nameRotate:-90, nameTextStyle:nameStyle('#2a4cc0',[0,0,0,0])}
];

// ---------------- SERIES ----------------
function tsLine(name, data, xi, yi, color, width, zero){
  const s = {name, type:'line', data, xAxisIndex:xi, yAxisIndex:yi, showSymbol:false, symbol:'none', smooth:0.3, lineStyle:{color, width}, itemStyle:{color}, z:3, animation:false};
  if(zero) s.markLine = {silent:true, symbol:['none','none'], label:{show:false}, data:[{yAxis:0}], lineStyle:{color:zero, width:1.6, type:'solid'}, animation:false};
  return s;
}
const series = [
  tsLine('a_atl3c', slaAtl3Croco, 0, 0, C_AC, 3.2, '#b8410e'),
  tsLine('a_atl3a', slaAtl3Aviso, 0, 0, C_AO, 2.2),
  tsLine('a_cabac', slaCabaCroco, 0, 1, C_BC, 3.2, '#1f40b0'),
  tsLine('a_cabaa', slaCabaAviso, 0, 1, C_BO, 2.2),
  tsLine('d_atl3c', sstAtl3Croco, 7, 8, C_AC, 3.2, '#b8410e'),
  tsLine('d_atl3r', sstAtl3Rey, 7, 8, C_AO, 2.2),
  tsLine('d_cabac', sstCabaCroco, 7, 9, C_BC, 3.2, '#1f40b0'),
  tsLine('d_cabar', sstCabaRey, 7, 9, C_BO, 2.2),
].concat(
  taylorSeries(3, 2, bCoastStd, bCoastCorr, bEqStd, bEqCorr, bAtl3, bCaba, bSig),
  taylorSeries(4, 3, cCoastStd, cCoastCorr, cEqStd, cEqCorr, cAtl3, cCaba, cSig)
);
const coastBands=[]; for(let i=0;i<30;i++) coastBands.push([i,i+1]);
const eqBands=[]; for(let i=-20;i<10;i++) eqBands.push([i,i+1]);
function bandRender(fn){ return (p,api)=>{ const lo=api.value(0), hi=api.value(1); const a=api.coord([0,hi]), b=api.coord([1,lo]); return {type:'rect', shape:{x:a[0],y:a[1],width:b[0]-a[0],height:b[1]-a[1]}, style:{fill:fn((lo+hi)/2), stroke:'#555', lineWidth:0.6}}; }; }
series.push({type:'custom', xAxisIndex:5, yAxisIndex:4, data:coastBands, renderItem:bandRender(coastColor), silent:true, clip:false, animation:false});
series.push({type:'custom', xAxisIndex:5, yAxisIndex:4, data:[[30,33]], silent:true, clip:false, animation:false,
  renderItem:(p,api)=>{ const a=api.coord([0,api.value(0)]), b=api.coord([1,api.value(0)]), c=api.coord([0.5,api.value(1)]); return {type:'polygon', shape:{points:[a,b,c]}, style:{fill:'#9a0c12', stroke:'#555', lineWidth:0.6}}; }});
series.push({type:'custom', xAxisIndex:6, yAxisIndex:6, data:eqBands, renderItem:bandRender(eqColor), silent:true, clip:false, animation:false});

// ---------------- LEGENDS / TITLES ----------------
const rich = {
  bc:{color:C_AC, fontWeight:'bold', fontSize:18, fontFamily:FONT, lineHeight:22},
  bcs:{color:C_AC, fontWeight:'bold', fontSize:12, fontFamily:FONT, verticalAlign:'bottom', lineHeight:12},
  lc:{color:C_AO, fontSize:18, fontFamily:FONT, lineHeight:22},
  lcs:{color:C_AO, fontSize:12, fontFamily:FONT, verticalAlign:'bottom', lineHeight:12},
  rc:{color:C_LAX, fontWeight:'bold', fontSize:18, fontFamily:FONT, padding:[0,0,0,9], lineHeight:22},
  bb:{color:C_BC, fontWeight:'bold', fontSize:18, fontFamily:FONT, lineHeight:22},
  bbs:{color:C_BC, fontWeight:'bold', fontSize:12, fontFamily:FONT, verticalAlign:'bottom', lineHeight:12},
  lb:{color:C_BO, fontSize:18, fontFamily:FONT, lineHeight:22},
  lbs:{color:C_BO, fontSize:12, fontFamily:FONT, verticalAlign:'bottom', lineHeight:12},
  rb:{color:C_RAX, fontSize:18, fontFamily:FONT, padding:[0,0,0,9], lineHeight:22}
};
const LEG = {
  a_atl3c:'{bc|ATL3}{bcs|CROCO}', a_atl3a:'{lc|ATL3}{lcs|AVISO}{rc|[r=0.77]}',
  a_cabac:'{bb|CABA}{bbs|CROCO}', a_cabaa:'{lb|CABA}{lbs|AVISO}{rb|[r=0.78]}',
  d_atl3c:'{bc|ATL3}{bcs|CROCO}', d_atl3r:'{lc|ATL3}{lcs|REY}{rc|[r=0.86]}',
  d_cabac:'{bb|CABA}{bbs|CROCO}', d_cabar:'{lb|CABA}{lbs|REY}{rb|[r=0.89]}'
};
function leg(names, pos){ return Object.assign({data:names.map(n=>({name:n, icon:'rect'})), selectedMode:false, itemWidth:33, itemHeight:3, itemGap:30, formatter:n=>LEG[n], textStyle:{rich, fontFamily:FONT}, padding:0}, pos); }
const titleRich = {t:{fontSize:27.5, fontWeight:'bold', color:'#111', fontFamily:FONT, lineHeight:32}, s:{fontSize:15, fontWeight:'bold', color:'#111', fontFamily:FONT, verticalAlign:'top', lineHeight:17}};

const option = {
  animation:false,
  backgroundColor:'#fff',
  textStyle:{fontFamily:FONT},
  title:[
    {text:'{t|a) ATL3 and CABA SLA time series}', left:'center', top:2, textStyle:{rich:titleRich}},
    {text:'{t|b) CROCO}{s|LONG}{t| Eq and Coastal SLA}', left:78, top:366, textStyle:{rich:titleRich}},
    {text:'{t|c) CROCO}{s|LONG}{t| Eq and Coastal SSTA}', left:590, top:366, textStyle:{rich:titleRich}},
    {text:'{t|d) ATL3 and CABA SSTA time series}', left:'center', top:911, textStyle:{rich:titleRich}}
  ],
  legend:[
    leg(['a_atl3c','a_atl3a'], {left:88, top:60}),
    leg(['a_cabac','a_cabaa'], {right:124, top:255}),
    leg(['d_atl3c','d_atl3r'], {left:88, top:970}),
    leg(['d_cabac','d_cabar'], {right:124, top:1159})
  ],
  grid:[
    {left:83, top:50, width:907, height:239},
    {left:83, top:423, width:390, height:390},
    {left:598, top:422, width:390, height:390},
    {left:1037, top:437, width:18, height:170},
    {left:1037, top:640, width:18, height:170},
    {left:85, top:962, width:906, height:226}
  ],
  xAxis:xAxes,
  yAxis:yAxes,
  series
};
const chart = echarts.init(document.getElementById('c'), null, {renderer:'canvas', width:1113, height:1220});
chart.setOption(option);
</script></body></html>
